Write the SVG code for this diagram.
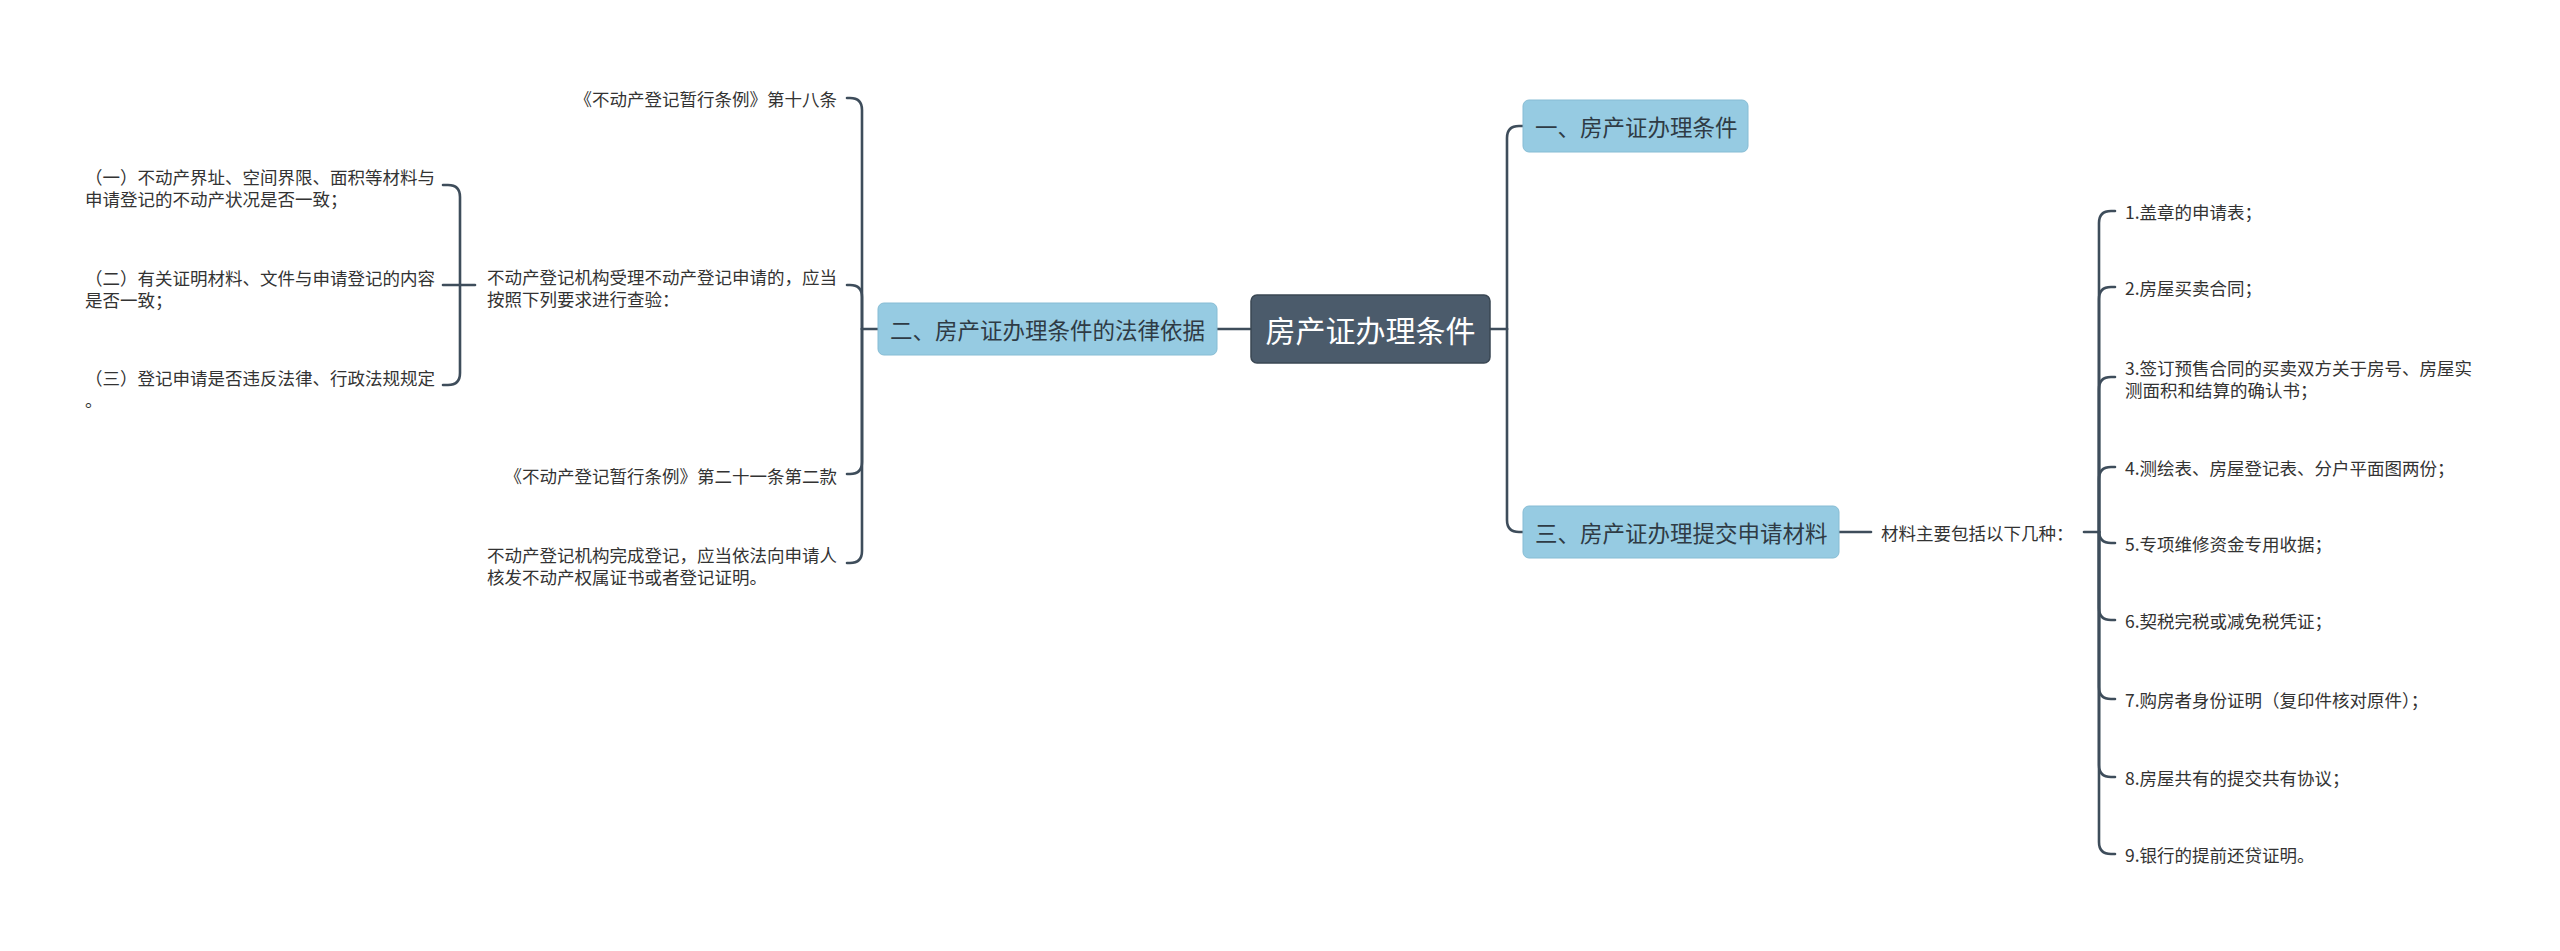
<svg xmlns="http://www.w3.org/2000/svg" width="2560" height="951" viewBox="0 0 2560 951">
<style>
text{font-family:"Noto Sans CJK SC","Noto Sans",sans-serif;dominant-baseline:central;fill:#333333}
.leaf{font-size:17.5px}
.branch rect{fill:#96cbe2;stroke:#86bcd4;stroke-width:1}
.branch text{font-size:22.5px;fill:#2f3b45}
.root rect{fill:#4b5b6b;stroke:#3a4753;stroke-width:1.5}
.root text{font-size:30px;fill:#ffffff}
.conn path{fill:none;stroke:#3e4d5b;stroke-width:2.6;stroke-linecap:round}
</style>
<rect width="2560" height="951" fill="#ffffff"/>
<g class="conn" id="connectors">
<path d="M1490,329 L1507,329"/>
<path d="M1507,329 L1507,138 Q1507,126 1519,126 L1523,126"/>
<path d="M1507,329 L1507,520 Q1507,532 1519,532 L1523,532"/>
<path d="M1250,329 L1217,329"/>
<path d="M878,329 L862,329"/>
<path d="M862,329 L862,110 Q862,98 850,98 L847,98"/>
<path d="M862,329 L862,297 Q862,285 850,285 L847,285"/>
<path d="M862,329 L862,462 Q862,474 850,474 L847,474"/>
<path d="M862,329 L862,551 Q862,563 850,563 L847,563"/>
<path d="M475,285 L460,285"/>
<path d="M460,285 L460,197 Q460,185 448,185 L443,185"/>
<path d="M460,285 L443,285"/>
<path d="M460,285 L460,373 Q460,385 448,385 L443,385"/>
<path d="M1839,532 L1871,532"/>
<path d="M2084,532 L2099,532"/>
<path d="M2099,532 L2099,223 Q2099,211 2111,211 L2115,211"/>
<path d="M2099,532 L2099,299 Q2099,287 2111,287 L2115,287"/>
<path d="M2099,532 L2099,389 Q2099,377 2111,377 L2115,377"/>
<path d="M2099,532 L2099,479 Q2099,467 2111,467 L2115,467"/>
<path d="M2099,532 L2099,531 Q2099,543 2111,543 L2115,543"/>
<path d="M2099,532 L2099,608 Q2099,620 2111,620 L2115,620"/>
<path d="M2099,532 L2099,687 Q2099,699 2111,699 L2115,699"/>
<path d="M2099,532 L2099,765 Q2099,777 2111,777 L2115,777"/>
<path d="M2099,532 L2099,842 Q2099,854 2111,854 L2115,854"/>
</g>
<g id="root" class="root"><rect x="1251" y="295" width="239" height="68" rx="6"/><text x="1370.5" y="329" text-anchor="middle">房产证办理条件</text></g>
<g id="b1" class="branch"><rect x="1523" y="100" width="225" height="52" rx="6"/><text x="1535" y="126">一、房产证办理条件</text></g>
<g id="b2" class="branch"><rect x="878" y="303" width="339" height="52" rx="6"/><text x="890" y="329">二、房产证办理条件的法律依据</text></g>
<g id="b3" class="branch"><rect x="1523" y="506" width="316" height="52" rx="6"/><text x="1535" y="532">三、房产证办理提交申请材料</text></g>
<g id="l1"><text class="leaf" x="837" y="98" text-anchor="end">《不动产登记暂行条例》第十八条</text></g>
<g id="l2"><text class="leaf" x="487" y="276">不动产登记机构受理不动产登记申请的，应当</text><text class="leaf" x="487" y="298">按照下列要求进行查验：</text></g>
<g id="l2a"><text class="leaf" x="85" y="176">（一）不动产界址、空间界限、面积等材料与</text><text class="leaf" x="85" y="198">申请登记的不动产状况是否一致；</text></g>
<g id="l2b"><text class="leaf" x="85" y="277">（二）有关证明材料、文件与申请登记的内容</text><text class="leaf" x="85" y="299">是否一致；</text></g>
<g id="l2c"><text class="leaf" x="85" y="377">（三）登记申请是否违反法律、行政法规规定</text><text class="leaf" x="85" y="399">。</text></g>
<g id="l3"><text class="leaf" x="837" y="475" text-anchor="end">《不动产登记暂行条例》第二十一条第二款</text></g>
<g id="l4"><text class="leaf" x="487" y="554">不动产登记机构完成登记，应当依法向申请人</text><text class="leaf" x="487" y="576">核发不动产权属证书或者登记证明。</text></g>
<g id="m0"><text class="leaf" x="1881" y="532">材料主要包括以下几种：</text></g>
<g id="m1"><text class="leaf" x="2125" y="211">1.盖章的申请表；</text></g>
<g id="m2"><text class="leaf" x="2125" y="287">2.房屋买卖合同；</text></g>
<g id="m3"><text class="leaf" x="2125" y="367">3.签订预售合同的买卖双方关于房号、房屋实</text><text class="leaf" x="2125" y="389">测面积和结算的确认书；</text></g>
<g id="m4"><text class="leaf" x="2125" y="467">4.测绘表、房屋登记表、分户平面图两份；</text></g>
<g id="m5"><text class="leaf" x="2125" y="543">5.专项维修资金专用收据；</text></g>
<g id="m6"><text class="leaf" x="2125" y="620">6.契税完税或减免税凭证；</text></g>
<g id="m7"><text class="leaf" x="2125" y="699">7.购房者身份证明（复印件核对原件）；</text></g>
<g id="m8"><text class="leaf" x="2125" y="777">8.房屋共有的提交共有协议；</text></g>
<g id="m9"><text class="leaf" x="2125" y="854">9.银行的提前还贷证明。</text></g>
</svg>
